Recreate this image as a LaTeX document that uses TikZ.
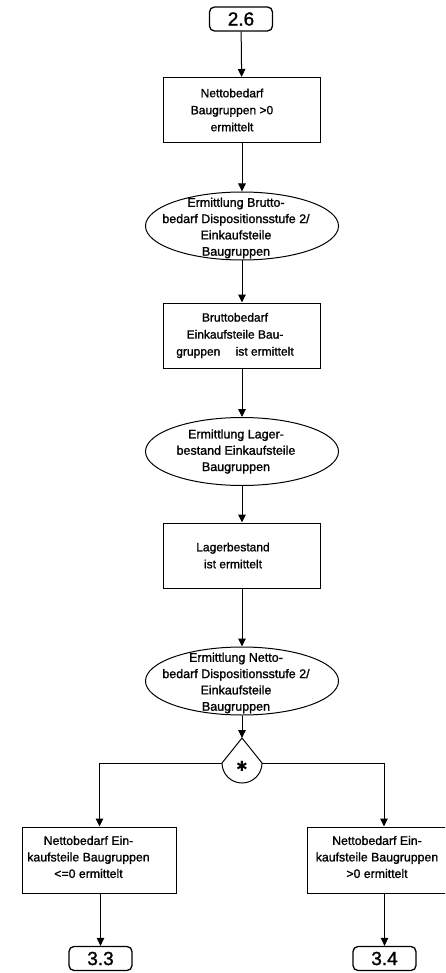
\documentclass[tikz,border=0pt]{standalone}
\usepackage{fontspec}
\setmainfont{Liberation Sans}[FakeBold=1.2]
\newfontfamily\symfont{DejaVu Sans}
\usetikzlibrary{arrows.meta,shapes.geometric,calc}

\begin{document}
\begin{tikzpicture}[x=1pt,y=-1pt,
  line width=1pt,
  flowarrow/.style={draw,-{Triangle[length=8pt,width=7.5pt]}},
  stepbox/.style={draw,rectangle,minimum width=157pt,minimum height=65pt,inner sep=0pt},
  leafbox/.style={draw,rectangle,minimum width=154pt,minimum height=66pt,inner sep=0pt},
  proc/.style={draw,ellipse,minimum width=193pt,minimum height=68pt,inner sep=0pt},
  term/.style={draw,rounded corners=5pt,minimum width=63pt,minimum height=24pt,inner sep=0pt,
    line width=1.3pt,font=\fontsize{19}{20}\selectfont},
  boxtext/.style={align=center,inner sep=0pt,font=\fontsize{12}{17}\selectfont},
  proctext/.style={align=center,inner sep=0pt,font=\fontsize{12.5}{16.3}\selectfont},
  leaftext/.style={align=center,inner sep=0pt,font=\fontsize{12.3}{16.5}\selectfont},
]
\useasboundingbox (0,0) rectangle (445,973);
\clip (0,0) rectangle (445,973);

% main column
\node[term] (t26) at (241,19) {2.6};

\node[stepbox] (b1) at (242,110) {};
\node[boxtext] (b1t) at ([xshift=-10pt]b1.center) {Nettobedarf\\Baugruppen >0\\ermittelt};

\node[proc] (e1) at (242,226) {};
\node[proctext] (e1t) at ([xshift=-6pt,yshift=-2pt]e1.center) {Ermittlung Brutto-\\bedarf Dispositionsstufe 2/\\Einkaufsteile\\Baugruppen};

\node[stepbox] (b2) at (242,335.5) {};
\node[boxtext] (b2t) at ([xshift=-7pt]b2.center) {Bruttobedarf\\Einkaufsteile Bau-\\gruppen \quad ist ermittelt};

\node[proc] (e2) at (242,451.5) {};
\node[proctext] (e2t) at ([xshift=-6pt]e2.center) {Ermittlung Lager-\\bestand Einkaufsteile\\Baugruppen};

\node[stepbox] (b3) at (242,555.5) {};
\node[boxtext] (b3t) at ([xshift=-9pt]b3.center) {Lagerbestand\\ist ermittelt};

\node[proc] (e3) at (242,681) {};
\node[proctext] (e3t) at ([xshift=-6pt,yshift=-2pt]e3.center) {Ermittlung Netto-\\bedarf Dispositionsstufe 2/\\Einkaufsteile\\Baugruppen};

% exclusive-or connector (drop shape)
\coordinate (xtop) at (242,738);
\coordinate (xl) at (222,763);
\coordinate (xr) at (262,763);
\draw (xtop) -- (xl) arc[start angle=180,end angle=360,radius=20pt] -- cycle;
\node[inner sep=0pt,font=\symfont\fontsize{14}{14}\selectfont] (xstar) at (242,766) {✱};

% branches
\node[leafbox] (lb) at (99.5,860) {};
\node[leaftext] (lbt) at ([xshift=-11pt,yshift=3pt]lb.center) {Nettobedarf Ein-\\kaufsteile Baugruppen\\<=0 ermittelt};

\node[leafbox] (rb) at (384,860) {};
\node[leaftext] (rbt) at ([xshift=-7pt,yshift=3pt]rb.center) {Nettobedarf Ein-\\kaufsteile Baugruppen\\>0 ermittelt};

\node[term] (t33) at (100.5,958.5) {3.3};
\node[term] (t34) at (384.5,958.5) {3.4};

% connectors
\draw[flowarrow] (t26) -- (b1);
\draw[flowarrow] (b1) -- (e1);
\draw[flowarrow] (e1) -- (b2);
\draw[flowarrow] (b2) -- (e2);
\draw[flowarrow] (e2) -- (b3);
\draw[flowarrow] (b3) -- (e3);
\draw[flowarrow] (e3) -- (xtop);
\draw[flowarrow] (xl) -| (lb.north);
\draw[flowarrow] (xr) -| (rb.north);
\draw[flowarrow] (lb.south -| t33.north) -- (t33.north);
\draw[flowarrow] (rb.south -| t34.north) -- (t34.north);
\end{tikzpicture}
\end{document}
